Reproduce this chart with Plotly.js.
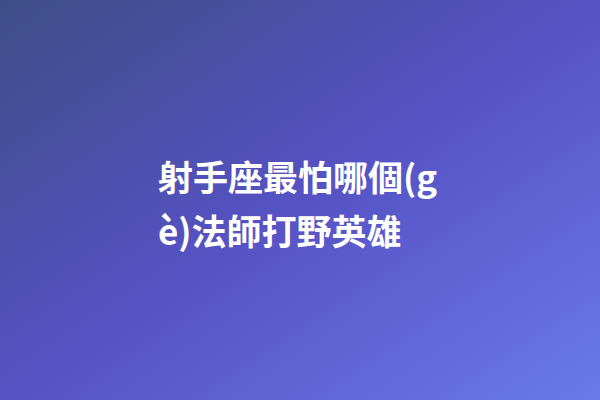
<!DOCTYPE html>
<html>
<head>
<meta charset="utf-8">
<script src="https://cdn.plot.ly/plotly-3.0.1.min.js"></script>
<style>
  html, body { margin: 0; padding: 0; }
  #myDiv { width: 600px; height: 400px; }
</style>
</head>
<body>
<div id="myDiv"></div>
<script>
// title lines, as wrapped in the picture
var lines = ['射手座最怕哪個(g', 'è)法師打野英雄'];
var lineY = [175, 230];

// gradient backdrop (top-left slate -> bottom-right light indigo)
var bg = '<svg xmlns="http://www.w3.org/2000/svg" width="600" height="400">' +
  '<defs><linearGradient id="g" x1="0" y1="0" x2="1" y2="1">' +
  '<stop offset="0" stop-color="#3d4e86"/>' +
  '<stop offset="0.5" stop-color="#5652c4"/>' +
  '<stop offset="1" stop-color="#6a7aea"/>' +
  '</linearGradient></defs>' +
  '<rect width="600" height="400" fill="url(#g)"/></svg>';

var annotations = lines.map(function (t, i) {
  return {
    text: t,
    xref: 'paper', yref: 'paper',
    x: 156 / 600, y: 1 - lineY[i] / 400,
    xanchor: 'left', yanchor: 'middle',
    showarrow: false,
    font: { family: '"Noto Sans CJK TC", "Noto Sans CJK SC", sans-serif', size: 35, color: '#ffffff', weight: 700 }
  };
});

var layout = {
  width: 600,
  height: 400,
  margin: { l: 0, r: 0, t: 0, b: 0 },
  paper_bgcolor: '#5652c4',
  plot_bgcolor: 'rgba(0,0,0,0)',
  xaxis: { visible: false, range: [0, 1] },
  yaxis: { visible: false, range: [0, 1] },
  images: [{
    source: 'data:image/svg+xml;charset=utf-8,' + encodeURIComponent(bg),
    xref: 'paper', yref: 'paper',
    x: 0, y: 1, sizex: 1, sizey: 1,
    sizing: 'stretch', layer: 'below'
  }],
  annotations: annotations,
  showlegend: false
};

Plotly.newPlot('myDiv', [], layout, { staticPlot: true, displayModeBar: false });
</script>
</body>
</html>
